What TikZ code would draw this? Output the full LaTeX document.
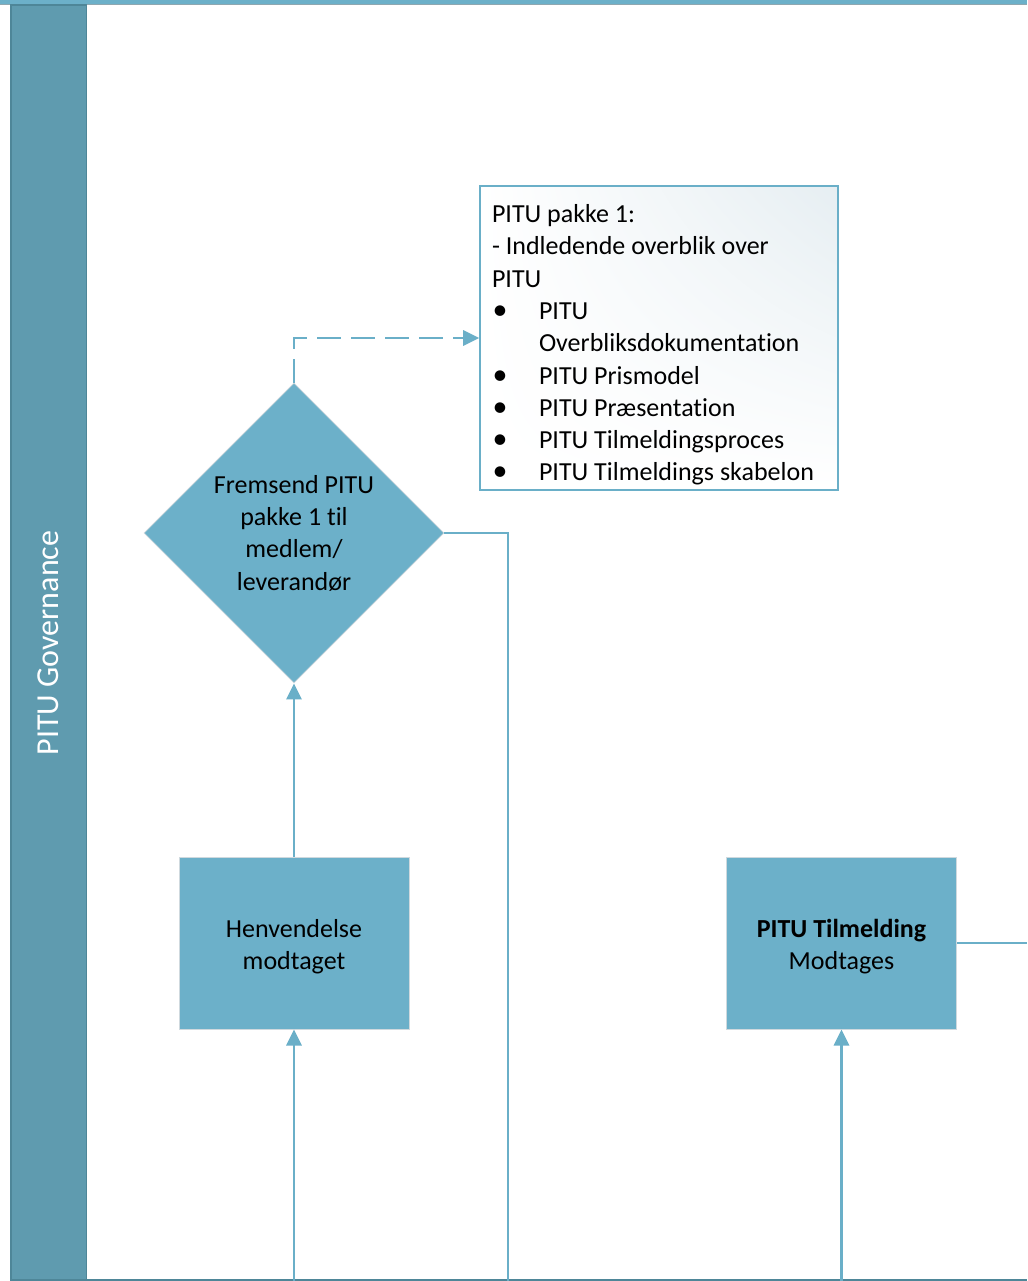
\documentclass[tikz,border=0pt]{standalone}
\usepackage{fontspec}
\setmainfont{Carlito}[RawFeature=-liga]
\usetikzlibrary{arrows.meta,shapes.geometric,shadings}

\definecolor{lanefill}{HTML}{5F9BAF}
\definecolor{laneedge}{HTML}{4E8698}
\definecolor{shapefill}{HTML}{6CB0C9}
\definecolor{flowcol}{HTML}{6AAFC8}
\definecolor{shapeedge}{HTML}{CFD9DE}
\definecolor{topline}{HTML}{8FA7B0}
\definecolor{notetint}{HTML}{E6EEF2}

\newcommand\bitem[1]{\makebox[47pt][l]{\hspace{0.5pt}\scalebox{1.15}{\textbullet}}#1}

\begin{document}
\begin{tikzpicture}[x=1pt,y=-1pt,
  txt/.style={font=\fontsize{26}{32.3}\selectfont},
  procbox/.style={txt,rectangle,fill=shapefill,draw=shapeedge,line width=1pt,
    minimum width=230pt,minimum height=172pt,align=center,inner sep=0pt},
  decision/.style={txt,diamond,fill=shapefill,draw=shapeedge,line width=0.8pt,
    minimum width=300pt,minimum height=300pt,aspect=1,align=center,inner sep=0pt},
  flow/.style={draw=flowcol,line width=2.8pt},
  tip/.style={-{Triangle[length=16pt,width=15pt]}},
  notebox/.style={txt,rectangle,draw=flowcol,line width=1.6pt,
    upper right=notetint,upper left=white,lower left=white,lower right=white,
    minimum width=358pt,minimum height=304pt,text width=334pt,inner xsep=12pt,
    inner ysep=0pt,align=flush left}
]
\useasboundingbox (0,0) rectangle (1027,1281);

% page and swimlane background
\fill[white] (0,0) rectangle (1027,1281);
\fill[shapefill] (0,0) rectangle (1027,4);
\draw[topline,line width=1.2pt] (0,4.6) -- (1027,4.6);
\filldraw[fill=lanefill,draw=laneedge,line width=1.5pt] (10.8,5.2) rectangle (86.6,1282);
\draw[laneedge,line width=2pt] (10,1280) -- (1027,1280);

\node[rotate=90,text=white,font=\fontsize{32}{38}\selectfont] (lanetitle) at (48,643) {PITU Governance};

% process shapes
\node[decision] (fremsend) at (294,533) {Fremsend PITU\\pakke 1 til\\medlem/\\leverandør};
\node[procbox] (henv) at (294,943) {\rule{0pt}{25pt}Henvendelse\\modtaget};
\node[procbox] (tilm) at (841.5,943) {\rule{0pt}{25pt}\textbf{PITU Tilmelding}\\Modtages};

\node[notebox] (note) at (659,338) {\rule{0pt}{32pt}PITU pakke 1:\\
- Indledende overblik over\\
PITU\\
\bitem{PITU}\\
\hspace*{47pt}Overbliksdokumentation\\
\bitem{PITU Prismodel}\\
\bitem{PITU Præsentation}\\
\bitem{PITU Tilmeldingsproces}\\
\bitem{PITU Tilmeldings skabelon}};

% connector end points at the page edges
\coordinate (inA) at (294,1281);
\coordinate (inB) at (841.5,1281);
\coordinate (outA) at (508,1281);
\coordinate (outB) at (1027,943);

% connectors
\draw[flow,tip] (inA) -- (henv.south);
\draw[flow,tip] (henv.north) -- (fremsend.south);
\draw[flow,tip] (inB) -- (tilm.south);
\draw[flow] (fremsend.east) -| (outA);
\draw[flow] (tilm.east) -- (outB);
\draw[flow,tip,dash pattern=on 24pt off 10pt] (fremsend.north) |- (note.west);
\end{tikzpicture}
\end{document}
